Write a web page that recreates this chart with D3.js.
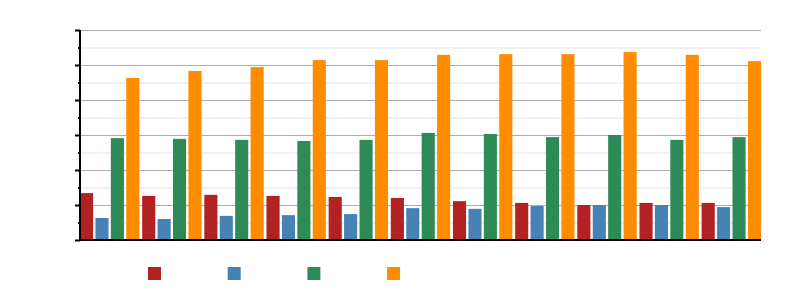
<!DOCTYPE html>
<html>
<head>
<meta charset="utf-8">
<script src="https://cdn.jsdelivr.net/npm/d3@7"></script>
<style>
  body { margin: 0; background: #fff; }
</style>
</head>
<body>
<div id="chart"></div>
<script>
var width = 800,
    height = 300;

// groups along the x axis (no labels are shown in the chart)
const groups = ["g1", "g2", "g3", "g4", "g5", "g6", "g7", "g8", "g9", "g10", "g11"];
const seriesNames = ["s1", "s2", "s3", "s4"];
const seriesColors = ["#b22222", "#4682b4", "#2e8b57", "#ff8c00"];

// values
const s1 = [13.4, 12.6, 12.9, 12.6, 12.3, 12.0, 11.1, 10.6, 10.0, 10.6, 10.6];
const s2 = [6.3, 6.0, 6.9, 7.1, 7.4, 9.1, 8.9, 9.7, 10.0, 10.0, 9.4];
const s3 = [29.1, 28.9, 28.6, 28.3, 28.6, 30.6, 30.3, 29.4, 30.0, 28.6, 29.4];
const s4 = [46.3, 48.3, 49.4, 51.4, 51.4, 52.9, 53.1, 53.1, 53.7, 52.9, 51.1];

const majorTicks = [0, 10, 20, 30, 40, 50, 60];
const minorTicks = [5, 15, 25, 35, 45, 55];

const series = [s1, s2, s3, s4];

var margin = {top: 30, right: 39, bottom: 60, left: 80};
var innerW = width - margin.left - margin.right,
    innerH = height - margin.top - margin.bottom;

var svg = d3.select('#chart').append('svg')
  .attr('width', width)
  .attr('height', height);

var g = svg.append('g')
  .attr('transform', 'translate(' + margin.left + ',' + margin.top + ')');

var x0 = d3.scaleBand()
  .domain(groups)
  .range([0, innerW])
  .paddingInner(0.045)
  .paddingOuter(0);

var x1 = d3.scaleBand()
  .domain(seriesNames)
  .range([0, x0.bandwidth()])
  .paddingInner(0.15)
  .paddingOuter(0);

var y = d3.scaleLinear()
  .domain([0, 60])
  .range([innerH, 0]);

// minor grid lines
g.append('g').selectAll('line')
  .data(minorTicks)
  .join('line')
  .attr('x1', 0)
  .attr('x2', innerW)
  .attr('y1', d => y(d) + 0.5)
  .attr('y2', d => y(d) + 0.5)
  .attr('stroke', '#e2e2e2')
  .attr('stroke-width', 1);

// major grid lines
g.append('g').selectAll('line')
  .data(majorTicks)
  .join('line')
  .attr('x1', 0)
  .attr('x2', innerW)
  .attr('y1', d => y(d) + 0.5)
  .attr('y2', d => y(d) + 0.5)
  .attr('stroke', '#adadad')
  .attr('stroke-width', 1);

// bars
var groupSel = g.append('g').selectAll('g')
  .data(groups)
  .join('g')
  .attr('transform', d => 'translate(' + x0(d) + ',0)');

groupSel.selectAll('rect')
  .data((d, i) => series.map((s, k) => ({key: seriesNames[k], value: s[i], color: seriesColors[k]})))
  .join('rect')
  .attr('x', d => x1(d.key))
  .attr('y', d => y(d.value))
  .attr('width', x1.bandwidth())
  .attr('height', d => innerH - y(d.value))
  .attr('fill', d => d.color);

// y axis: major + minor ticks, no labels
var yAxisMajor = d3.axisLeft(y).tickValues(majorTicks).tickSize(5).tickFormat('');
var yAxisMinor = d3.axisLeft(y).tickValues(minorTicks).tickSize(2).tickFormat('');

var ya = g.append('g').call(yAxisMajor);
ya.select('.domain').remove();
ya.selectAll('line').attr('stroke', '#000').attr('stroke-width', 2);

var ym = g.append('g').call(yAxisMinor);
ym.select('.domain').remove();
ym.selectAll('line').attr('stroke', '#000').attr('stroke-width', 2);

g.append('line')
  .attr('x1', 0).attr('x2', 0)
  .attr('y1', 0).attr('y2', innerH + 1)
  .attr('stroke', '#000')
  .attr('stroke-width', 2);

// x axis baseline
g.append('line')
  .attr('x1', -1).attr('x2', innerW)
  .attr('y1', innerH).attr('y2', innerH)
  .attr('stroke', '#000')
  .attr('stroke-width', 2);

// legend swatches
var legend = svg.append('g')
  .attr('transform', 'translate(148,267)');

legend.selectAll('rect')
  .data(seriesNames)
  .join('rect')
  .attr('x', (d, i) => i * 79.7)
  .attr('y', 0)
  .attr('width', 13)
  .attr('height', 13)
  .attr('fill', (d, i) => seriesColors[i]);
</script>
</body>
</html>
